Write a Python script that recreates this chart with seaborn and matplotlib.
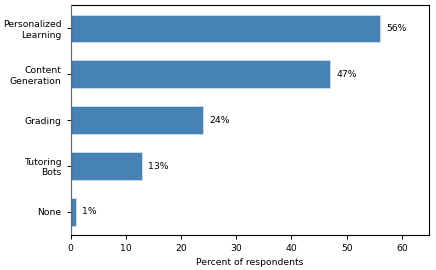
import pandas as pd
import matplotlib
matplotlib.use('Agg')
import matplotlib.pyplot as plt
import seaborn as sns

categorias = ['Personalized\nLearning', 'Content\nGeneration', 'Grading', 'Tutoring\nBots', 'None']
percentuais = [56, 47, 24, 13, 1]

dados = pd.DataFrame({'Uso': categorias, 'Percentual': percentuais})

plt.rcParams['font.family'] = ['DejaVu Sans']
tam = 6.7

fig, ax = plt.subplots(figsize=(4.36, 2.7), dpi=100)
sns.barplot(data=dados, y='Uso', x='Percentual', orient='h', color='#4682b4',
            saturation=1, width=0.6, edgecolor='#cfe0ee', linewidth=0.6, ax=ax)

# rótulos de porcentagem ao lado de cada barra
for i, v in enumerate(percentuais):
    ax.text(v + 1.1, i, f'{v}%', va='center', ha='left', fontsize=tam)

ax.axvline(0, color='gray', linewidth=1.2, zorder=3)
ax.set_xlim(0, 65)
ax.set_xticks([0, 10, 20, 30, 40, 50, 60])
ax.set_xlabel('Percent of respondents', fontsize=tam)
ax.set_ylabel('')
ax.tick_params(labelsize=tam, length=3, width=0.7)
for s in ax.spines.values():
    s.set_linewidth(0.8)

fig.subplots_adjust(left=0.162, right=0.985, top=0.980, bottom=0.130)
fig.savefig('out.png', dpi=100)
